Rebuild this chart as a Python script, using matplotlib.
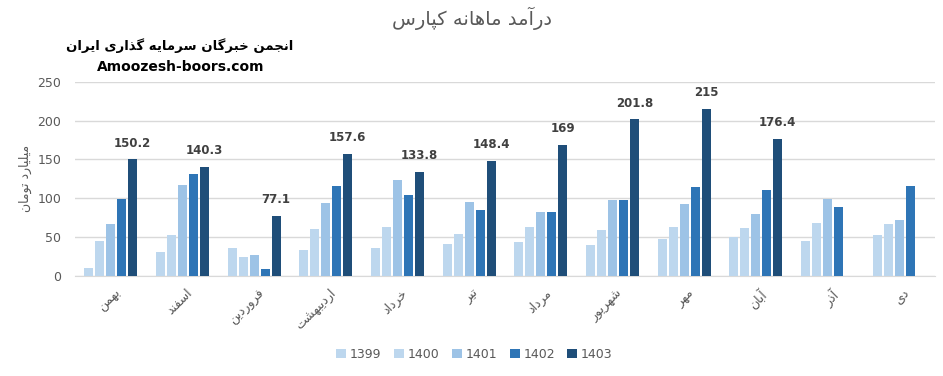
import numpy as np
import matplotlib.pyplot as plt

# ماه‌ها و درآمد (میلیارد تومان)
months = ['بهمن', 'اسفند', 'فروردین', 'اردیبهشت', 'خرداد', 'تیر',
          'مرداد', 'شهریور', 'مهر', 'آبان', 'آذر', 'دی']
years = ['1399', '1400', '1401', '1402', '1403']
v1399 = [10, 31, 35, 33.5, 36, 41, 44, 40, 47.6, 50, 45, 53]
v1400 = [45, 53, 24.5, 60.5, 63, 54, 63, 59, 63, 62, 68, 67]
v1401 = [67, 117, 26, 94, 124, 95, 82, 98, 93, 80, 99, 72]
v1402 = [99, 131, 9, 116, 104, 85, 82, 98, 115, 111, 89, 116]
v1403 = [150.2, 140.3, 77.1, 157.6, 133.8, 148.4, 169, 201.8, 215, 176.4, np.nan, np.nan]
colors = ['#BDD7EE', '#BDD7EE', '#9DC3E6', '#2E75B6', '#1F4E79']

# شکل حروف فارسی (ایزوله، پایانی، آغازی، میانی)
FORMS = {
    'ا': ('\uFE8D', '\uFE8E', None, None),
    'آ': ('\uFE81', '\uFE82', None, None),
    'ب': ('\uFE8F', '\uFE90', '\uFE91', '\uFE92'),
    'پ': ('\uFB56', '\uFB57', '\uFB58', '\uFB59'),
    'ت': ('\uFE95', '\uFE96', '\uFE97', '\uFE98'),
    'ج': ('\uFE9D', '\uFE9E', '\uFE9F', '\uFEA0'),
    'خ': ('\uFEA5', '\uFEA6', '\uFEA7', '\uFEA8'),
    'د': ('\uFEA9', '\uFEAA', None, None),
    'ذ': ('\uFEAB', '\uFEAC', None, None),
    'ر': ('\uFEAD', '\uFEAE', None, None),
    'س': ('\uFEB1', '\uFEB2', '\uFEB3', '\uFEB4'),
    'ش': ('\uFEB5', '\uFEB6', '\uFEB7', '\uFEB8'),
    'ف': ('\uFED1', '\uFED2', '\uFED3', '\uFED4'),
    'ک': ('\uFB8E', '\uFB8F', '\uFB90', '\uFB91'),
    'گ': ('\uFB92', '\uFB93', '\uFB94', '\uFB95'),
    'ل': ('\uFEDD', '\uFEDE', '\uFEDF', '\uFEE0'),
    'م': ('\uFEE1', '\uFEE2', '\uFEE3', '\uFEE4'),
    'ن': ('\uFEE5', '\uFEE6', '\uFEE7', '\uFEE8'),
    'و': ('\uFEED', '\uFEEE', None, None),
    'ه': ('\uFEE9', '\uFEEA', '\uFEEB', '\uFEEC'),
    'ی': ('\uFBFC', '\uFBFD', '\uFBFE', '\uFBFF'),
}


def fa(text):
    out = []
    for i, c in enumerate(text):
        if c not in FORMS:
            out.append(c)
            continue
        iso, fin, ini, med = FORMS[c]
        prev = text[i - 1] if i > 0 else None
        nxt = text[i + 1] if i + 1 < len(text) else None
        jp = prev in FORMS and FORMS[prev][2] is not None
        jn = ini is not None and nxt in FORMS
        if jp and jn:
            out.append(med)
        elif jp:
            out.append(fin)
        elif jn:
            out.append(ini)
        else:
            out.append(iso)
    return ''.join(reversed(out))


plt.rcParams['font.family'] = ['DejaVu Sans']

fig = plt.figure(figsize=(9.43, 3.76), dpi=100)
ax = fig.add_axes([0.0795, 0.267, 0.912, 0.515])

series = [v1399, v1400, v1401, v1402, v1403]
x = np.arange(len(months))
step = 0.153
width = 0.125
for k, (vals, year) in enumerate(zip(series, years)):
    ax.bar(x + (k - 2) * step, vals, width, color=colors[k], label=year, zorder=3)

for xi, v in zip(x, v1403):
    if np.isnan(v):
        continue
    ax.annotate(f'{v:g}', (xi + 2 * step, v), xytext=(0, 7), textcoords='offset points',
                ha='center', va='bottom', fontsize=8.5, fontweight='bold', color='#404040')

ax.set_xlim(-0.5, len(months) - 0.5)
ax.set_ylim(0, 250)
ax.set_yticks(range(0, 251, 50))
ax.grid(axis='y', color='#D9D9D9', lw=1, zorder=0)
for s in ['top', 'right', 'left']:
    ax.spines[s].set_visible(False)
ax.spines['bottom'].set_color('#D9D9D9')
ax.tick_params(axis='both', length=0, colors='#595959', labelsize=9)
ax.tick_params(axis='y', pad=10)
ax.tick_params(axis='x', pad=8)
ax.set_xticks(x + 0.05)
ax.set_xticklabels([fa(m) for m in months], rotation=45, ha='right', va='top',
                   rotation_mode='anchor')
ax.set_ylabel(fa('میلیارد تومان'), color='#595959', fontsize=9)
ax.yaxis.set_label_coords(-0.05, 0.5)

fig.text(0.5, 0.95, fa('درآمد ماهانه کپارس'), ha='center', va='center',
         fontsize=14, color='#595959')
fig.text(0.19, 0.88, fa('انجمن خبرگان سرمایه گذاری ایران'), ha='center', va='center',
         fontsize=9.5, fontweight='bold', color='black')
fig.text(0.192, 0.822, 'Amoozesh-boors.com', ha='center', va='center',
         fontsize=10, fontweight='bold', color='black')

fig.legend(loc='center', bbox_to_anchor=(0.503, 0.058), ncol=5, frameon=False,
           fontsize=9, handlelength=0.8, handleheight=0.8, handletextpad=0.3,
           columnspacing=1.0, labelcolor='#595959')

fig.savefig('out.png', dpi=100)
